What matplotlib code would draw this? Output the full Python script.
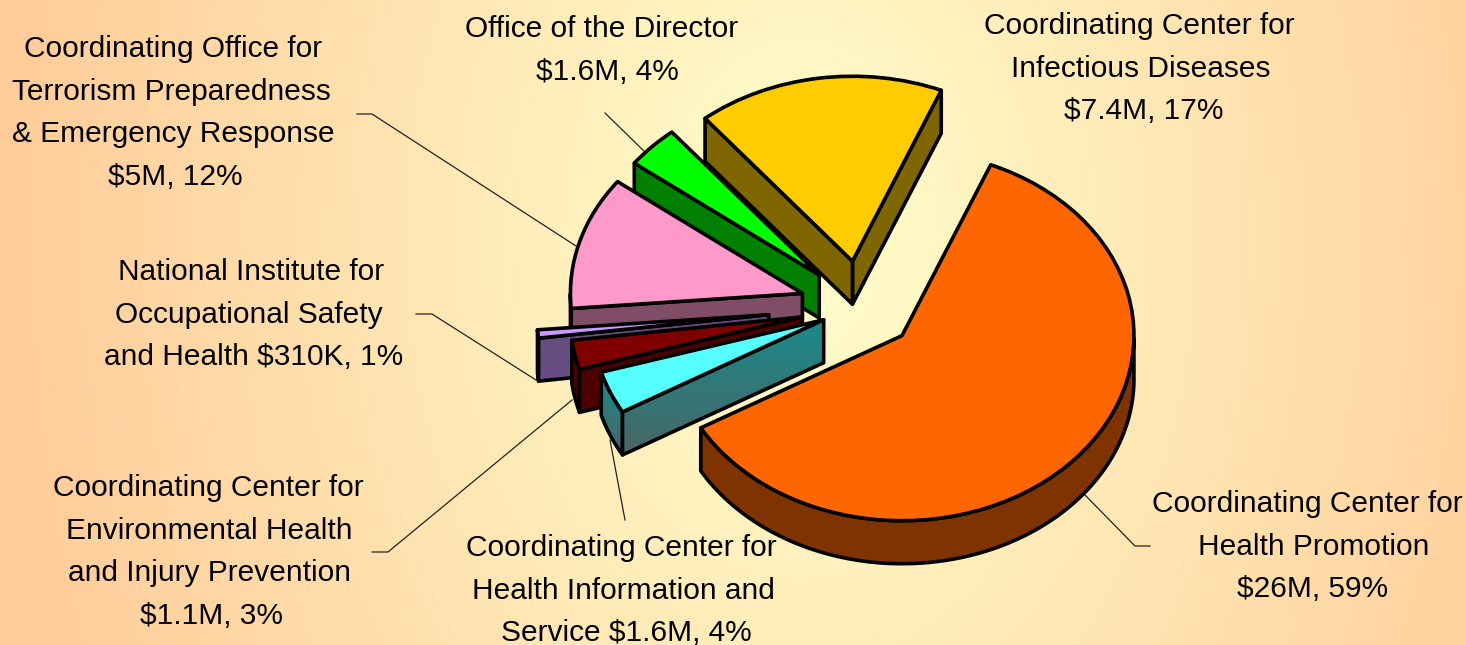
import numpy as np
import matplotlib
matplotlib.use("Agg")
import matplotlib.pyplot as plt
from matplotlib.patches import Polygon
from matplotlib.transforms import Affine2D

plt.rcParams['font.family'] = ['Liberation Sans', 'DejaVu Sans']

# data ($ millions), in pie order
categories = ["Coordinating Center for Infectious Diseases", "Office of the Director",
              "Coordinating Office for Terrorism Preparedness & Emergency Response",
              "National Institute for Occupational Safety and Health",
              "Coordinating Center for Environmental Health and Injury Prevention",
              "Coordinating Center for Health Information and Service",
              "Coordinating Center for Health Promotion"]
values = [7.4, 1.6, 5.0, 0.31, 1.1, 1.6, 26.0]
explode = [0.25, 0.25, 0.263, 0.40, 0.26, 0.175, 0.235]
top_colors = ["#FFCC00", "#00FF00", "#FF99CC", "#CC99FF", "#800000", "#55FFFF", "#FF6600"]
side_colors = ["#806600", "#008000", "#804D66", "#664C80", "#4D0000", "#1F8080", "#7F3300"]
draw_rank = [1, 0, 2, 3, 4, 5, 6]

# text, first line y, centre x of each line
labels = [
    ("Coordinating Center for\nInfectious Diseases\n$7.4M, 17%", 26, [1139.5, 1140.5, 1144]),
    ("Office of the Director\n$1.6M, 4%", 29, [602, 607]),
    ("Coordinating Office for\nTerrorism Preparedness\n& Emergency Response\n$5M, 12%", 49, [173, 171.5, 173, 175.5]),
    ("National Institute for\nOccupational Safety\nand Health $310K, 1%", 272, [251, 249, 254]),
    ("Coordinating Center for\nEnvironmental Health\nand Injury Prevention\n$1.1M, 3%", 488, [208, 209, 210, 211.5]),
    ("Coordinating Center for\nHealth Information and\nService $1.6M, 4%", 548, [621.5, 623.5, 626]),
    ("Coordinating Center for\nHealth Promotion\n$26M, 59%", 504, [1307.5, 1313.5, 1313]),
]
leaders = [
    [(648, 155), (605, 113)],
    [(576, 246), (372, 114), (357, 114)],
    [(536, 380), (432, 314), (416, 314)],
    [(572, 400), (388, 552), (372, 552)],
    [(610, 440), (625, 520)],
    [(1085, 495), (1135, 546), (1150, 546)],
]

W, H = 1466, 645
CX, CY, RX, RY, DEPTH = 861, 307, 232, 185, 43

fig = plt.figure(figsize=(W / 100, H / 100), dpi=100)

# background gradient
bg = fig.add_axes([0, 0, 1, 1], zorder=0)
yy, xx = np.mgrid[0:H, 0:W]
t = np.clip(np.sqrt(((xx - 800) / 800.0) ** 2 + ((yy - 240) / 1150.0) ** 2), 0, 1)[..., None]
inner = np.array([255, 255, 204]) / 255
outer = np.array([255, 204, 153]) / 255
bg.imshow(inner * (1 - t) + outer * t, aspect='auto', interpolation='bilinear')
bg.axis('off')

ax = fig.add_axes([0, 0, 1, 1], zorder=1)
ax.patch.set_visible(False)
wedges, _ = ax.pie(values, explode=explode, startangle=67.5, colors=top_colors, radius=1,
                   wedgeprops=dict(edgecolor='black', linewidth=2.6, joinstyle='round'))
ax.set_aspect('auto')
ax.axis('off')
d = DEPTH / RY


def add_face(pts, color, z, gradient=False):
    pts = np.asarray(pts)
    poly = np.vstack([pts, (pts - [0, d])[::-1]])
    if gradient:
        top = poly[:, 1].max()
        bot = poly[:, 1].min()
        ax.add_patch(Polygon(poly, closed=True, fc='none', ec='black', lw=2.6,
                             joinstyle='round', zorder=z + 0.01))
        g = np.linspace(0, 1, 64)[:, None, None]
        c0 = np.array([26, 138, 138]) / 255
        c1 = np.array([74, 102, 102]) / 255
        im = ax.imshow(c0 * (1 - g) + c1 * g, extent=(poly[:, 0].min(), poly[:, 0].max(), bot, top),
                       aspect='auto', zorder=z, origin='upper')
        im.set_clip_path(Polygon(poly, closed=True, transform=ax.transData))
    else:
        ax.add_patch(Polygon(poly, closed=True, fc=color, ec='black', lw=2.6,
                             joinstyle='round', zorder=z))


for i, w in enumerate(wedges):
    z = 10 + 10 * draw_rank[i]
    w.set_zorder(z + 5)
    grad = i == 5
    c = np.array(w.center)
    t1, t2 = w.theta1, w.theta2
    # rim facing the viewer
    angs = np.linspace(t1, t2, 240)
    front = np.sin(np.radians(angs)) < 0
    if front.any():
        a = np.radians(angs[front])
        add_face(c + np.c_[np.cos(a), np.sin(a)], side_colors[i], z + 1, grad)
    # radial cut faces facing the viewer
    for th, n in ((t1, t1 - 90), (t2, t2 + 90)):
        if np.sin(np.radians(n)) < 0:
            r = np.radians(th)
            add_face([c, c + [np.cos(r), np.sin(r)]], side_colors[i], z + 2, grad)

ax.set_xlim(-CX / RX, (W - CX) / RX)
ax.set_ylim((CY - H) / RY, CY / RY)

px = Affine2D().scale(1 / W, -1 / H).translate(0, 1) + fig.transFigure
for pts in leaders:
    xs, ys = zip(*pts)
    ax.plot(xs, ys, color='#222222', lw=0.9, transform=px, zorder=5, clip_on=False)

LINE = 42.6
for text, y, xs in labels:
    for k, (line, x) in enumerate(zip(text.split('\n'), xs)):
        ax.text(x, y + k * LINE, line, transform=px, ha='center', va='center',
                fontsize=21.5, color='black', zorder=200)

fig.savefig('out.png', dpi=100)
